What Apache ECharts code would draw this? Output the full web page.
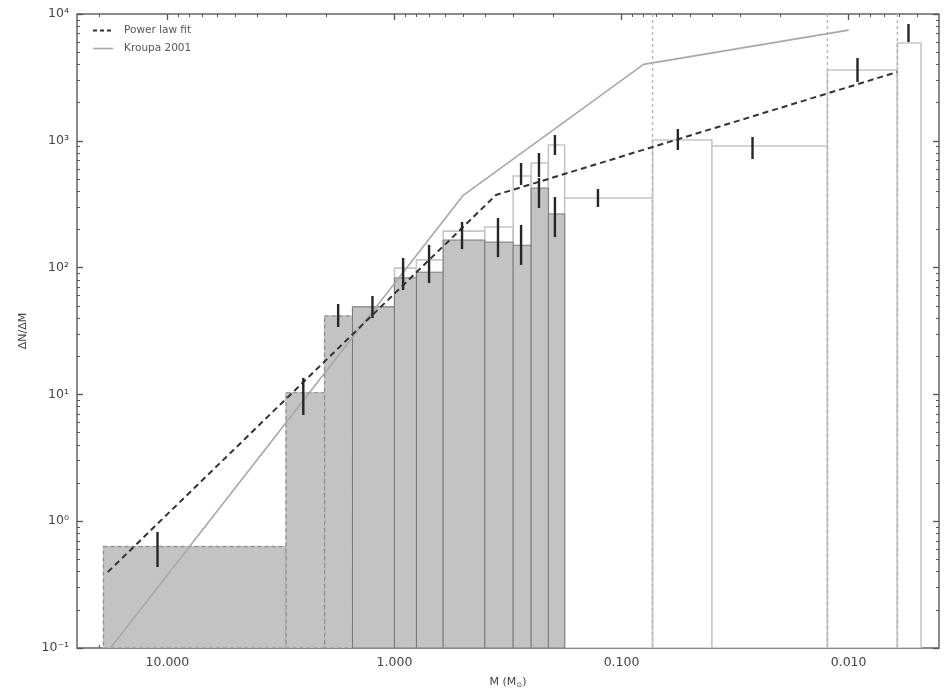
<!DOCTYPE html>
<html>
<head>
<meta charset="utf-8">
<script src="https://cdn.jsdelivr.net/npm/echarts@6/dist/echarts.min.js"></script>
<style>
  html, body { margin: 0; padding: 0; background: #fff; }
  #chart { width: 947px; height: 691px; }
</style>
</head>
<body>
<div id="chart"></div>
<script>
// ---- data -------------------------------------------------------------
// Mass bin edges (solar masses), from the most massive bin downwards
const massEdges = [19.1, 3.0, 2.03, 1.53, 1.0, 0.80, 0.61, 0.40, 0.30, 0.25, 0.21,
                   0.178, 0.073, 0.040, 0.0124, 0.0061, 0.0048];
// Observed ΔN/ΔM per bin (filled histogram)
const observedN = [0.63, 10.3, 41.5, 49, 83, 92, 165, 159, 150, 424, 265];
// Completeness-corrected ΔN/ΔM per bin (open histogram)
const correctedN = [0.63, 10.3, 41.5, 49, 99, 115, 194, 209, 527, 668, 927,
                    354, 1014, 910, 3617, 5907];
// Number of leading observed bins whose outline is dashed
const dashedBins = 3;

// Poisson error bars: mass, lower and upper ΔN/ΔM
const errMass = [11.05, 2.52, 1.77, 1.25, 0.916, 0.704, 0.504, 0.35, 0.277, 0.277,
                 0.231, 0.231, 0.1965, 0.1965, 0.127, 0.0565, 0.0265, 0.00914, 0.00545];
const errLow  = [0.435, 6.88, 34.0, 40.0, 66.6, 75.6, 140, 121, 448, 105,
                 518, 295, 773, 174, 301, 846, 719, 2909, 6014];
const errHigh = [0.822, 13.5, 51.6, 59.7, 119, 151, 229, 246, 668, 217,
                 801, 509, 1111, 360, 417, 1239, 1071, 4498, 8337];

// Broken power-law fit
const fitMass = [18.3, 0.357, 0.0061];
const fitN    = [0.397, 374, 3488];

// Kroupa (2001) IMF, scaled
const kroupaMass = [17.8, 0.5, 0.08, 0.01];
const kroupaN    = [0.1, 369, 4005, 7464];

// Mass limits marked by dotted vertical lines
const limitMass = [0.073, 0.0124, 0.0061];

// Axis ranges and ticks
const X_MIN = 0.004, X_MAX = 25;
const Y_MIN = 0.1, Y_MAX = 10000;
const xTickValues = [10, 1, 0.1, 0.01];
const yTickValues = [0.1, 1, 10, 100, 1000, 10000];
const yTickLabels = ['10\u207B\u00B9', '10\u2070', '10\u00B9', '10\u00B2', '10\u00B3', '10\u2074'];

// ---- helpers ----------------------------------------------------------
function minorTicks(lo, hi) {
  const out = [];
  for (let e = -4; e <= 5; e++) {
    const d = Math.pow(10, e);
    for (let k = 2; k <= 9; k++) {
      const v = k * d;
      if (v > lo && v < hi) out.push(v);
    }
  }
  return out;
}
const xMinor = minorTicks(X_MIN, X_MAX);
const yMinor = minorTicks(Y_MIN, Y_MAX);

function histData(values) {
  return values.map((v, i) => [massEdges[i + 1], massEdges[i], v, i]);
}

function binRenderer(styleFor) {
  return function (params, api) {
    const a = api.coord([api.value(0), api.value(2)]);
    const b = api.coord([api.value(1), Y_MIN]);
    return {
      type: 'rect',
      shape: {
        x: Math.min(a[0], b[0]),
        y: Math.min(a[1], b[1]),
        width: Math.abs(a[0] - b[0]),
        height: Math.abs(a[1] - b[1])
      },
      style: styleFor(api.value(3))
    };
  };
}

const FONT = 'DejaVu Sans';
const TICK_COLOR = '#555';

function xAxisDef(position, major) {
  return {
    type: 'log', gridIndex: 0, position: position,
    min: X_MIN, max: X_MAX, inverse: true,
    axisLine: { show: false, onZero: false },
    splitLine: { show: false },
    axisTick: {
      show: true, inside: true, length: major ? 6 : 3,
      customValues: major ? xTickValues : xMinor,
      lineStyle: { color: TICK_COLOR, width: major ? 1.3 : 1 }
    },
    axisLabel: { show: false }
  };
}
function yAxisDef(position, major) {
  return {
    type: 'log', gridIndex: 0, position: position,
    min: Y_MIN, max: Y_MAX,
    axisLine: { show: false, onZero: false },
    splitLine: { show: false },
    axisTick: {
      show: true, inside: true, length: major ? 6 : 3,
      customValues: major ? yTickValues : yMinor,
      lineStyle: { color: TICK_COLOR, width: major ? 1.3 : 1 }
    },
    axisLabel: { show: false }
  };
}

const xMain = xAxisDef('bottom', true);
xMain.axisLabel = {
  show: true, customValues: xTickValues, margin: 8,
  fontFamily: FONT, fontSize: 12.5, color: '#444',
  formatter: v => Number(v).toFixed(3)
};
xMain.name = 'M (M{s|\u2299})';
xMain.nameLocation = 'middle';
xMain.nameGap = 27;
xMain.nameTextStyle = {
  fontFamily: FONT, fontSize: 11, color: '#444',
  rich: { s: { fontFamily: FONT, fontSize: 7, color: '#444', padding: [7, 0, 0, 0] } }
};

const yMain = yAxisDef('left', true);
yMain.axisLabel = {
  show: true, customValues: yTickValues, margin: 8,
  fontFamily: FONT, fontSize: 12.5, color: '#444',
  formatter: v => yTickLabels[Math.round(Math.log10(v)) + 1]
};
yMain.name = '\u0394N/\u0394M';
yMain.nameLocation = 'middle';
yMain.nameRotate = 90;
yMain.nameGap = 48;
yMain.nameTextStyle = { fontFamily: FONT, fontSize: 11, color: '#444' };

const option = {
  animation: false,
  backgroundColor: '#fff',
  grid: {
    left: 77, right: 8, top: 14, bottom: 43,
    show: true, borderColor: '#666', borderWidth: 1.5,
    backgroundColor: 'transparent',
    containLabel: false, outerBoundsMode: 'none'
  },
  legend: {
    orient: 'vertical', left: 87, top: 20,
    itemWidth: 20, itemHeight: 10, itemGap: 7,
    itemStyle: { opacity: 0 },
    textStyle: { fontFamily: FONT, fontSize: 10.5, color: '#555', padding: [0, 0, 0, 6] },
    data: [
      { name: 'Power law fit', lineStyle: { color: '#333', width: 2, type: [4, 3] } },
      { name: 'Kroupa 2001', lineStyle: { color: '#a8a8a8', width: 1.6, type: 'solid' } }
    ]
  },
  xAxis: [xMain, xAxisDef('bottom', false), xAxisDef('top', true), xAxisDef('top', false)],
  yAxis: [yMain, yAxisDef('left', false), yAxisDef('right', true), yAxisDef('right', false)],
  series: [
    {
      // completeness-corrected counts, open bars
      type: 'custom', name: 'corrected', xAxisIndex: 0, yAxisIndex: 0,
      data: histData(correctedN),
      encode: { x: [0, 1], y: 2 },
      clip: true, z: 1,
      renderItem: binRenderer(() => ({ fill: '#ffffff', stroke: '#c6c6c6', lineWidth: 1.6 }))
    },
    {
      // observed counts, filled bars
      type: 'custom', name: 'observed', xAxisIndex: 0, yAxisIndex: 0,
      data: histData(observedN),
      encode: { x: [0, 1], y: 2 },
      clip: true, z: 2,
      renderItem: binRenderer(i => i < dashedBins
        ? { fill: '#c3c3c3', stroke: '#8c8c8c', lineWidth: 1.2, lineDash: [4, 3] }
        : { fill: '#c3c3c3', stroke: '#7a7a7a', lineWidth: 1 })
    },
    {
      // dotted mass limits
      type: 'custom', name: 'limits', xAxisIndex: 0, yAxisIndex: 0,
      data: limitMass.map(m => [m]),
      encode: { x: 0 },
      clip: true, z: 3,
      renderItem: function (params, api) {
        const top = api.coord([api.value(0), Y_MAX]);
        const bot = api.coord([api.value(0), Y_MIN]);
        return {
          type: 'line',
          shape: { x1: top[0], y1: top[1], x2: bot[0], y2: bot[1] },
          style: { stroke: '#b8b8b8', lineWidth: 1.5, lineDash: [3, 3] }
        };
      }
    },
    {
      name: 'Kroupa 2001', type: 'line', xAxisIndex: 0, yAxisIndex: 0,
      data: kroupaMass.map((m, i) => [m, kroupaN[i]]),
      symbol: 'none', z: 4,
      lineStyle: { color: '#a8a8a8', width: 1.6 },
      itemStyle: { color: '#a8a8a8' }
    },
    {
      name: 'Power law fit', type: 'line', xAxisIndex: 0, yAxisIndex: 0,
      data: fitMass.map((m, i) => [m, fitN[i]]),
      symbol: 'none', z: 5,
      lineStyle: { color: '#333', width: 2, type: [6, 4] },
      itemStyle: { color: '#333' }
    },
    {
      // error bars
      type: 'custom', name: 'errors', xAxisIndex: 0, yAxisIndex: 0,
      data: errMass.map((m, i) => [m, errLow[i], errHigh[i]]),
      encode: { x: 0, y: [1, 2] },
      clip: true, z: 6,
      renderItem: function (params, api) {
        const lo = api.coord([api.value(0), api.value(1)]);
        const hi = api.coord([api.value(0), api.value(2)]);
        return {
          type: 'line',
          shape: { x1: lo[0], y1: lo[1], x2: hi[0], y2: hi[1] },
          style: { stroke: '#262626', lineWidth: 2.4 }
        };
      }
    }
  ]
};

const chart = echarts.init(document.getElementById('chart'), null, { renderer: 'canvas' });
chart.setOption(option);
</script>
</body>
</html>
